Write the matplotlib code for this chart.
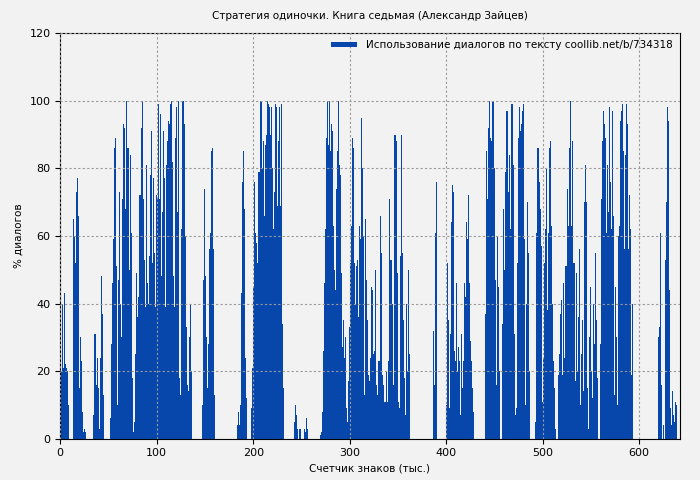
import matplotlib
matplotlib.use("Agg")
import matplotlib.pyplot as plt
import numpy as np

TITLE = "Стратегия одиночки. Книга седьмая (Александр Зайцев)"
LEGEND = "Использование диалогов по тексту coollib.net/b/734318"
X_LABEL = "Счетчик знаков (тыс.)"
Y_LABEL = "% диалогов"
TOTAL = 642

# (start position in thousands of chars, dialog % for consecutive thousands)
seg_a = (0, [24, 20, 40, 21, 43, 22, 21, 20, 10])
seg_b = (13, [65, 60, 52, 73, 77, 66, 28, 15, 30, 23, 8, 2, 3, 2])
seg_c = (34, [7, 31, 31, 16, 24, 15, 3, 24, 48, 37, 13])
seg_d = (52, [6, 28, 46, 59, 86, 89, 51, 10, 47, 73, 40, 30, 71, 93, 92, 68, 100,
              86, 86, 50, 84, 61, 18, 2, 5, 3, 25, 49, 36, 42, 72, 72, 92, 100, 71,
              53, 39, 81, 46, 40, 54, 78, 91, 52, 77, 55, 39, 72, 71, 99, 71, 96, 48,
              92, 67, 91, 77, 39, 81, 88, 94, 93, 99, 100, 82, 48, 39, 89, 98, 67,
              100, 18, 13, 62, 100, 100, 93, 60, 33, 16, 14, 30, 50, 40, 20])
seg_e = (147, [10, 47, 74, 48, 30, 15, 28, 56, 61, 85, 86, 56, 13])
seg_f = (183, [4, 8, 4, 10, 43, 76, 85, 68, 26, 24, 12])
seg_g = (198, [9, 21, 45, 76, 61, 58, 52, 79, 79, 100, 100, 80, 88, 66, 87, 90, 100,
               99, 98, 90, 98, 44, 80, 62, 73, 99, 98, 69, 88, 98, 69, 99, 34, 15])
seg_h = (242, [5, 10, 7, 3, 0, 3, 7, 3, 0, 0, 0, 3, 2, 6, 3])
seg_i = (269, [1, 2, 8, 26, 46, 62, 89, 92, 100, 87, 100, 85, 93, 91, 63, 50, 44, 74,
               85, 100, 81, 78, 49, 27, 35, 24, 30, 9, 5, 17, 33, 52, 63, 89, 86, 52,
               36, 40, 51, 53, 36, 63, 59, 95, 80, 60, 13, 65, 47, 35, 19, 17, 24, 45,
               44, 25, 26, 50, 16, 13, 23, 23, 66, 55, 29, 19, 16, 11, 11, 20, 11, 23,
               71, 53, 53, 40, 16, 90, 90, 88, 49, 11, 9, 54, 90, 55, 35, 18, 7, 40,
               20, 50, 25, 10])
seg_j = (386, [32, 16, 61, 76, 38])
seg_k = (400, [10, 52, 35, 9, 31, 64, 75, 73, 26, 23, 46, 20, 27, 23, 7, 31, 15, 23, 46,
               29, 42, 64, 59, 72, 46, 29, 23, 15, 8])
seg_l = (440, [37, 85, 71, 92, 100, 89, 88, 99, 100, 100, 80, 47, 16, 60, 45, 20])
seg_m = (458, [34, 68, 50, 79, 97, 97, 73, 84, 62, 99, 99, 81, 31, 7, 9, 52, 89, 98,
               100, 91, 93, 97, 99, 59, 10, 40, 70, 55, 20])
seg_n = (492, [5, 61, 86, 86, 76, 68, 57, 11, 24, 52, 62, 80, 38, 69, 61, 86, 88, 63,
               40, 23, 15, 3])
seg_o = (516, [19, 25, 37, 41, 19, 46, 24, 51, 51, 74, 63, 86, 100, 63, 88, 52, 52, 85,
               17, 49, 20, 36, 56, 10, 25, 35, 14, 70, 81, 70, 15, 3, 30, 45, 20, 12,
               40, 28, 55, 35, 18])
seg_p = (559, [28, 71, 88, 92, 97, 93, 89, 61, 81, 67, 98, 76, 62, 97, 66, 13, 45, 30,
               10, 60, 63, 94, 97, 99, 85, 56, 84, 99, 93, 56, 72, 63, 62, 19, 40])
seg_q = (620, [30, 33, 61, 16, 0, 4, 0, 53, 70, 98, 94, 44, 9, 4, 14, 7, 5, 11, 10])

segments = [seg_a, seg_b, seg_c, seg_d, seg_e, seg_f, seg_g, seg_h, seg_i, seg_j,
            seg_k, seg_l, seg_m, seg_n, seg_o, seg_p, seg_q]

percent = np.zeros(TOTAL)
for start, vals in segments:
    end = min(start + len(vals), TOTAL)
    percent[start:end] = vals[:end - start]
positions = np.arange(TOTAL)

BG = "#f2f2f2"
BAR = "#0747ab"

fig, ax = plt.subplots(figsize=(7, 4.8), dpi=100)
fig.patch.set_facecolor(BG)
ax.set_facecolor(BG)

ax.bar(positions, percent, width=1.0, align="edge", color=BAR, linewidth=0, label=LEGEND)

ax.set_xlim(0, TOTAL)
ax.set_ylim(0, 120)
ax.set_xticks(range(0, 700, 100))
ax.set_yticks(range(0, 121, 20))
ax.tick_params(labelsize=8)
ax.grid(True, color="#999999", linestyle=(0, (2, 2)), linewidth=0.8)
ax.set_axisbelow(False)
for b in ax.patches:
    b.set_zorder(1)
ax.xaxis.grid(True, zorder=0)

ax.set_title(TITLE, fontsize=7.5, pad=10)
ax.set_xlabel(X_LABEL, fontsize=7.5)
ax.set_ylabel(Y_LABEL, fontsize=7.5)
ax.legend(loc="upper right", frameon=False, fontsize=7.5, handlelength=2.5,
          handleheight=0.4, borderaxespad=0.3)

fig.subplots_adjust(left=0.086, right=0.971, top=0.931, bottom=0.086)
fig.savefig("out.png", dpi=100, facecolor=BG)
